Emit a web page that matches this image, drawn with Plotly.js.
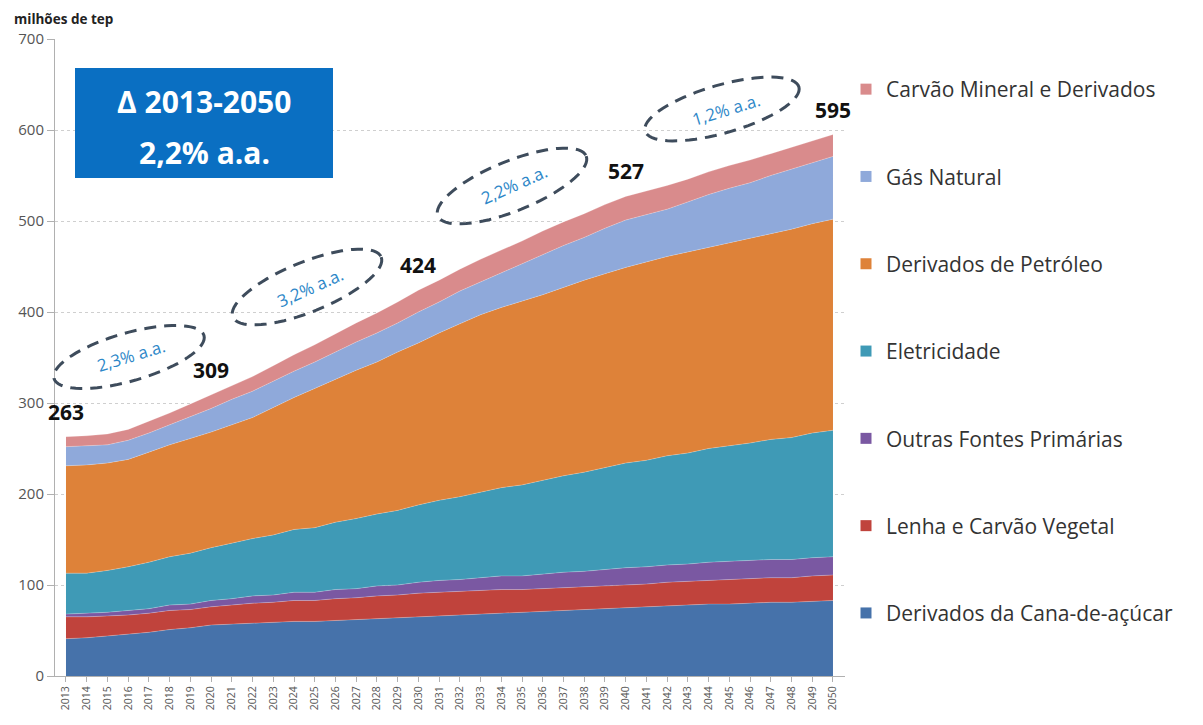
<!DOCTYPE html>
<html>
<head>
<meta charset="utf-8">
<script src="https://cdn.plot.ly/plotly-3.0.1.min.js"></script>
<style>
html,body{margin:0;padding:0;background:#fff;}
#chart{width:1203px;height:725px;}
</style>
</head>
<body>
<div id="chart"></div>
<script>
// ---------- DATA ----------
const years = [2013,2014,2015,2016,2017,2018,2019,2020,2021,2022,2023,2024,2025,2026,2027,2028,2029,2030,2031,2032,2033,2034,2035,2036,2037,2038,2039,2040,2041,2042,2043,2044,2045,2046,2047,2048,2049,2050];

const seriesNames = [
  "Derivados da Cana-de-açúcar",
  "Lenha e Carvão Vegetal",
  "Outras Fontes Primárias",
  "Eletricidade",
  "Derivados de Petróleo",
  "Gás Natural",
  "Carvão Mineral e Derivados"
];

const cana     = [41,42,44,46,48,51,53,56, 57,58,59,60,60,61,62,63,64,65, 66,67,68,69,70,71,72,73,74,75, 76,77,78,79,79,80,81,81,82,83];
const lenha    = [24,23,22,21,21,21,20,20, 21,22,22,23,23,24,24,25,25,26, 26,26,26,26,25,25,25,25,25,25, 25,26,26,26,27,27,27,27,28,28];
const outras   = [3,4,4,5,5,6,6,7, 7,8,8,9,9,10,10,11,11,12, 13,13,14,15,15,16,17,17,18,19, 19,19,19,20,20,20,20,20,20,20];
const eletric  = [45,44,46,48,51,53,56,58, 61,63,66,69,71,74,77,79,82,85, 88,91,94,97,100,103,106,109,112,115, 117,120,122,125,127,129,132,134,137,139];
const petroleo = [118,119,118,118,121,123,126,127, 130,133,140,145,153,157,163,167,174,178, 184,190,195,198,202,204,207,211,213,215, 218,219,221,221,223,225,226,229,230,232];
const gas      = [21,21,20,21,21,22,24,26, 28,29,29,29,29,30,31,32,32,34, 34,36,36,38,41,44,46,47,50,52, 52,52,55,58,60,61,64,66,67,69];
const carvao   = [11,11,12,12,13,13,14,15, 15,16,17,18,19,20,21,22,23,24, 24,24,25,25,25,26,26,26,26,26, 26,26,25,25,25,25,24,24,24,24];

const seriesColors = ["#4672aa","#c0433c","#7a58a2","#3f9ab6","#de8239","#8fa9da","#d98b8c"];

// labelled totals
const labelYears  = [2013,2020,2030,2040,2050];
const labelTotals = [263,309,424,527,595];

// growth-rate callouts
const rateTexts = ["2,3% a.a.","3,2% a.a.","2,2% a.a.","1,2% a.a."];
const boxLines = ["Δ 2013-2050","2,2% a.a."];
const yTicks = [0,100,200,300,400,500,600,700];

// ---------- LAYOUT GEOMETRY ----------
const W = 1203, H = 725;
const M = {l:55, r:358, t:39, b:49};
const PW = W - M.l - M.r, PH = H - M.t - M.b;
const px2x = px => (px - M.l)/PW;
const py2y = py => (H - M.b - py)/PH;

function ellipsePath(cx, cy, a, b, angDeg){
  const t = angDeg*Math.PI/180;
  let d = "";
  const N = 72;
  for(let i=0;i<=N;i++){
    const u = 2*Math.PI*i/N;
    const ex = a*Math.cos(u), ey = b*Math.sin(u);
    const X = cx + ex*Math.cos(t) - ey*Math.sin(t);
    const Y = cy + ex*Math.sin(t) + ey*Math.cos(t);
    d += (i===0?"M":"L") + px2x(X).toFixed(5) + "," + py2y(Y).toFixed(5);
  }
  return d + "Z";
}

const ellipses = [
  {cx:129, cy:357, a:78, b:24, ang:-16, text:rateTexts[0], tx:131, ty:355, ta:-17},
  {cx:307, cy:287, a:80, b:25, ang:-22, text:rateTexts[1], tx:310, ty:287, ta:-24},
  {cx:512, cy:186, a:80, b:25, ang:-22, text:rateTexts[2], tx:514, ty:184, ta:-24},
  {cx:722, cy:109, a:80, b:24, ang:-16, text:rateTexts[3], tx:726, ty:109, ta:-17}
];

// ---------- TRACES ----------
const seriesData = [cana, lenha, outras, eletric, petroleo, gas, carvao];
const traces = [];
seriesData.forEach((vals, i) => {
  traces.push({
    x: years, y: vals, name: seriesNames[i], type: "scatter", mode: "lines",
    stackgroup: "one", fillcolor: seriesColors[i],
    line: {width: 0.5, color: "rgba(255,255,255,0.45)", shape: "linear"},
    showlegend: false, hoverinfo: "x+y+name"
  });
});
// legend entries (square swatches), top = Carvão
for(let i = seriesNames.length-1; i >= 0; i--){
  traces.push({
    x: [null], y: [null], name: seriesNames[i], type: "scatter", mode: "markers",
    marker: {symbol: "square", size: 11, color: seriesColors[i]},
    legendgroup: "g"+i, showlegend: true, hoverinfo: "skip"
  });
}

// ---------- ANNOTATIONS & SHAPES ----------
const annotations = [];
const shapes = [];

annotations.push({
  xref:"paper", yref:"paper", x: px2x(12), y: py2y(19), xanchor:"left", yanchor:"middle",
  text:"<b>milhões de tep</b>", showarrow:false,
  font:{family:"Open Sans, sans-serif", size:13.5, color:"#222"}
});

// blue box
shapes.push({type:"rect", xref:"paper", yref:"paper",
  x0:px2x(75), x1:px2x(333), y0:py2y(178), y1:py2y(68),
  fillcolor:"#0a6fc2", line:{width:0}, layer:"above"});
[102,153].forEach((yy, k) => {
  annotations.push({
    xref:"paper", yref:"paper", x: px2x(204), y: py2y(yy), xanchor:"center", yanchor:"middle",
    text:"<b>"+boxLines[k]+"</b>", showarrow:false, align:"center",
    font:{family:"Open Sans, sans-serif", size:30, color:"#ffffff"}
  });
});

// total labels
labelYears.forEach((yr, i) => {
  annotations.push({
    x: yr, y: labelTotals[i], xref:"x", yref:"y", text:"<b>"+labelTotals[i]+"</b>",
    showarrow:false, yanchor:"middle", xanchor:"center", yshift:25,
    font:{family:"Open Sans, sans-serif", size:21, color:"#111"}
  });
});

// ellipses + rates
ellipses.forEach(e => {
  shapes.push({type:"path", xref:"paper", yref:"paper", path: ellipsePath(e.cx, e.cy, e.a, e.b, e.ang),
    line:{color:"#3e4c5c", width:3, dash:"12px,8px"}, fillcolor:"rgba(0,0,0,0)", layer:"above"});
  annotations.push({
    xref:"paper", yref:"paper", x: px2x(e.tx), y: py2y(e.ty), xanchor:"center", yanchor:"middle",
    text: e.text, showarrow:false, textangle: e.ta,
    font:{family:"Open Sans, sans-serif", size:17, color:"#2d87c8"}
  });
});

const layout = {
  width: W, height: H,
  margin: {l:M.l, r:M.r, t:M.t, b:M.b, pad:0},
  paper_bgcolor:"#ffffff", plot_bgcolor:"#ffffff",
  showlegend: true,
  legend: {
    x: px2x(846), y: py2y(69), xanchor:"left", yanchor:"top",
    traceorder:"grouped", tracegroupgap: 57, itemwidth: 30,
    font:{family:"Open Sans, sans-serif", size:21, color:"#333"},
    bgcolor:"rgba(0,0,0,0)"
  },
  xaxis: {
    type:"linear", range:[2012.47, 2050.58], tickmode:"array", tickvals: years,
    ticktext: years.map(String), tickangle:-90,
    tickfont:{family:"Open Sans, sans-serif", size:10.5, color:"#555"},
    ticks:"outside", ticklen:5, tickcolor:"#b0b0b0",
    showline:true, linecolor:"#b0b0b0", linewidth:1,
    showgrid:false, zeroline:false, fixedrange:true
  },
  yaxis: {
    range:[0,700], tickmode:"array", tickvals: yTicks,
    tickfont:{family:"Open Sans, sans-serif", size:15, color:"#555"},
    ticks:"outside", ticklen:7, tickcolor:"#b0b0b0",
    showline:true, linecolor:"#b0b0b0", linewidth:1,
    showgrid:true, gridcolor:"#cfcfcf", griddash:"dot", gridwidth:1,
    zeroline:false, fixedrange:true
  },
  annotations: annotations,
  shapes: shapes,
  font:{family:"Open Sans, sans-serif"}
};

Plotly.newPlot("chart", traces, layout, {staticPlot:true, displayModeBar:false});
</script>
</body>
</html>
